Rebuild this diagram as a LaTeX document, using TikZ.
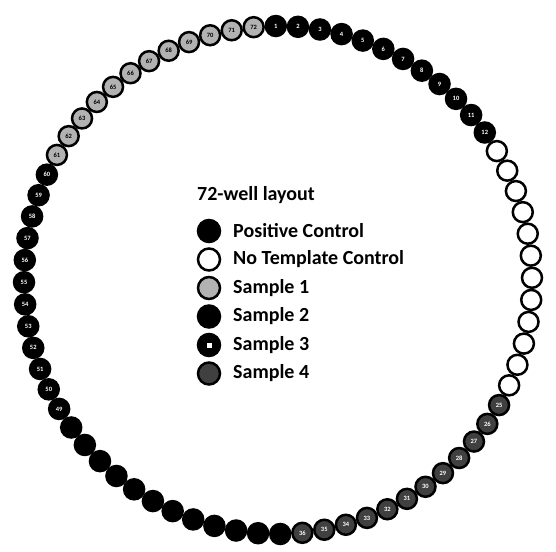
\documentclass[tikz,border=0pt]{standalone}
\usepackage{fontspec}
\setmainfont{Carlito}
\begin{document}
\begin{tikzpicture}[x=1pt,y=-1pt,
  well/.style={circle, draw=black, line width=2.5pt, minimum size=20pt, inner sep=0pt, font=\bfseries\fontsize{6.5}{6.5}\selectfont},
  lwell/.style={well, minimum size=22pt},
  pcw/.style={fill=black, text=white},
  ntcw/.style={fill=white},
  s1w/.style={fill=black!30, text=black},
  s2w/.style={fill=black},
  s3w/.style={fill=black, text=white},
  s4w/.style={fill=black!75, text=white},
  sqmark/.style={path picture={\fill[white] ([xshift=-2.5pt,yshift=-2.5pt]path picture bounding box.center) rectangle ([xshift=2.5pt,yshift=2.5pt]path picture bounding box.center);}},
  legtext/.style={anchor=west, font=\bfseries\fontsize{20}{20}\selectfont, inner sep=0pt}
]
\useasboundingbox (0,0) rectangle (556,551);
\foreach \i in {1,...,72}{
  \pgfmathsetmacro\px{278+254*cos(90.5-5*(\i-1))}
  \pgfmathsetmacro\py{280-254*sin(90.5-5*(\i-1))}
  \pgfmathtruncatemacro\g{(\i-1)/12}
  \ifcase\g
    \node[well, pcw] (w\i) at (\px,\py) {\i};
  \or
    \node[well, ntcw] (w\i) at (\px,\py) {};
  \or
    \node[well, s4w] (w\i) at (\px,\py) {\i};
  \or
    \node[well, s2w] (w\i) at (\px,\py) {};
  \or
    \node[well, s3w] (w\i) at (\px,\py) {\i};
  \else
    \node[well, s1w] (w\i) at (\px,\py) {\i};
  \fi
}
% legend
\node[legtext] (title) at (197,195) {72-well layout};
\node[lwell, pcw] (l1) at (209,231) {};
\node[lwell, ntcw] (l2) at (209,259.5) {};
\node[lwell, s1w] (l3) at (209,288) {};
\node[lwell, s2w] (l4) at (209,316.5) {};
\node[lwell, s3w, sqmark] (l5) at (209,345) {};
\node[lwell, s4w] (l6) at (209,373.5) {};
\node[legtext] (t1) at (233,231) {Positive Control};
\node[legtext] (t2) at (233,259.5) {No Template Control};
\node[legtext] (t3) at (233,288) {Sample 1};
\node[legtext] (t4) at (233,316.5) {Sample 2};
\node[legtext] (t5) at (233,345) {Sample 3};
\node[legtext] (t6) at (233,373.5) {Sample 4};
\end{tikzpicture}
\end{document}
